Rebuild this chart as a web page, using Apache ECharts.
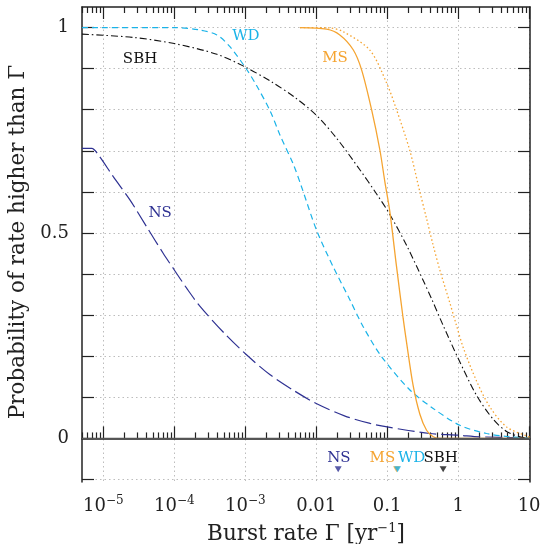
<!DOCTYPE html>
<html><head><meta charset="utf-8">
<script src="https://cdn.jsdelivr.net/npm/echarts@6/dist/echarts.min.js"></script>
<style>html,body{margin:0;padding:0;background:#fff}#c{width:541px;height:544px}</style>
</head><body><div id="c"></div>
<script>
// ---- data ----
const nsX = [5e-6, 6.87e-6, 8.51e-6, 1.38e-5, 2.38e-5, 4.08e-5, 7.0e-5, 1e-4, 1.5e-4, 2.29e-4, 5.0e-4, 1.05e-3, 2.24e-3, 5.0e-3, 0.01, 0.025, 0.0575, 0.1, 0.398, 1, 2, 10];
const nsY = [0.706, 0.706, 0.69, 0.637, 0.58, 0.515, 0.45, 0.41, 0.365, 0.322, 0.257, 0.203, 0.155, 0.115, 0.085, 0.055, 0.0365, 0.028, 0.012, 0.008, 0.004, 0.001];

const wdX = [5e-6, 1e-4, 2.29e-4, 3.98e-4, 6.03e-4, 1.02e-3, 1.43e-3, 2.24e-3, 3.09e-3, 4.79e-3, 6.22e-3, 0.0101, 0.0173, 0.0299, 0.0459, 0.0834, 0.209, 0.445, 1.057, 2.51, 5.35, 10];
const wdY = [1.0, 1.0, 0.994, 0.982, 0.954, 0.901, 0.86, 0.797, 0.738, 0.666, 0.612, 0.507, 0.418, 0.337, 0.272, 0.199, 0.118, 0.073, 0.032, 0.012, 0.004, 0.001];

const sbhX = [5e-6, 2.63e-5, 1e-4, 3.98e-4, 1e-3, 2.34e-3, 5.01e-3, 0.01, 0.0195, 0.0412, 0.071, 0.109, 0.1875, 0.321, 0.422, 0.615, 1, 1.815, 3.11, 4.81, 7.41, 10];
const sbhY = [0.984, 0.976, 0.961, 0.935, 0.904, 0.868, 0.83, 0.787, 0.73, 0.654, 0.595, 0.545, 0.47, 0.385, 0.34, 0.275, 0.195, 0.105, 0.047, 0.017, 0.004, 0.0];

const msX = [5.89e-3, 0.014, 0.0215, 0.0332, 0.0436, 0.0603, 0.0789, 0.0929, 0.109, 0.1355, 0.168, 0.1875, 0.232, 0.289, 0.359, 0.445, 0.552, 10];
const msY = [1.0, 0.996, 0.982, 0.946, 0.897, 0.80, 0.702, 0.624, 0.552, 0.418, 0.292, 0.234, 0.129, 0.059, 0.020, 0.004, 0.0, 0.0];

const msDotX = [5.89e-3, 0.01556, 0.024, 0.057, 0.0982, 0.1355, 0.209, 0.289, 0.359, 0.445, 0.552, 0.764, 0.948, 1.175, 1.816, 2.79, 4.81, 9.18, 10.2];
const msDotY = [1.0, 0.999, 0.99, 0.945, 0.865, 0.80, 0.70, 0.60, 0.535, 0.47, 0.41, 0.33, 0.275, 0.222, 0.14, 0.077, 0.028, 0.006, 0.003];

// markers below the zero line
const markNames = ['NS', 'MS', 'WD', 'SBH'];
const markX = [0.0204, 0.1355, 0.140, 0.615];
const markY = [-0.075, -0.075, -0.075, -0.075];
const markLabelX = [0.0209, 0.0855, 0.221, 0.568];
const markLabelY = [-0.047, -0.047, -0.047, -0.047];

// curve labels
const curveNames = ['WD', 'SBH', 'MS', 'NS'];
const curveLabelX = [1.02e-3, 3.29e-5, 0.0184, 6.3e-5];
const curveLabelY = [0.978, 0.922, 0.925, 0.549];

// ticks
const xMajorTicks = [1e-5, 1e-4, 1e-3, 0.01, 0.1, 1, 10];
const xTickLabels = ['10{s|−5}', '10{s|−4}', '10{s|−3}', '0.01', '0.1', '1', '10'];
const xMinorMantissas = [2, 3, 4, 5, 6, 7, 8, 9];
const yTicks = [-0.1, 0, 0.1, 0.2, 0.3, 0.4, 0.5, 0.6, 0.7, 0.8, 0.9, 1.0];
const yTickLabels = [0, 0.5, 1];

const COL = {NS: '#2e3192', WD: '#1ab3e8', MS: '#f5a431', SBH: '#111111'};
const FONT = 'DejaVu Serif';

const xMinorTicks = [];
[1e-6, 1e-5, 1e-4, 1e-3, 0.01, 0.1, 1].forEach(d => xMinorMantissas.forEach(m => {
  const v = +(m * d).toPrecision(3);
  if (v >= 5e-6 && v <= 10.3) xMinorTicks.push(v);
}));

const zip = (a, b) => a.map((v, i) => [v, b[i]]);
const XMIN = 5e-6, XMAX = 10.3, YMIN = -0.106, YMAX = 1.05;
const axisCol = '#222';
const SUP = {fontSize: 12, lineHeight: 12, verticalAlign: 'top', fontFamily: FONT, color: axisCol};

function xAx(pos, major, extra) {
  return Object.assign({
    type: 'log', logBase: 10, min: XMIN, max: XMAX, position: pos,
    axisLine: {show: major, lineStyle: {color: axisCol, width: 1.5}},
    axisTick: {show: true, inside: true, length: major ? 12 : 6,
      customValues: major ? xMajorTicks : xMinorTicks,
      lineStyle: {color: axisCol, width: 1.2}},
    axisLabel: {show: false},
    splitLine: {show: false}
  }, extra || {});
}

function textLabel(n) {
  return {show: true, position: 'inside', formatter: n, color: COL[n], opacity: 1,
    textBorderWidth: 0, fontFamily: FONT, fontSize: 15};
}

const chart = echarts.init(document.getElementById('c'), null, {renderer: 'canvas'});
chart.setOption({
  animation: false,
  backgroundColor: '#fff',
  grid: {left: 82, top: 7, width: 448, height: 475, containLabel: false, outerBoundsMode: 'none'},
  xAxis: [
    xAx('bottom', true, {
      axisLabel: {show: true, customValues: xMajorTicks, margin: 13, color: axisCol,
        fontFamily: FONT, fontSize: 18, lineHeight: 22,
        formatter: v => { let best = 0; xMajorTicks.forEach((t, i) => { if (Math.abs(Math.log10(t) - Math.log10(v)) < Math.abs(Math.log10(xMajorTicks[best]) - Math.log10(v))) best = i; }); return xTickLabels[best]; },
        rich: {s: SUP}},
      splitLine: {show: true, lineStyle: {color: '#bdbdbd', width: 1, type: [1.5, 3]}},
      name: 'Burst rate Γ [yr{s|−1}]', nameLocation: 'middle', nameGap: 38,
      nameTextStyle: {fontFamily: FONT, fontSize: 21.5, color: axisCol, lineHeight: 25,
        rich: {s: {fontSize: 13, lineHeight: 13, verticalAlign: 'top', fontFamily: FONT, color: axisCol}}}
    }),
    xAx('bottom', false),
    xAx('top', true),
    xAx('top', false)
  ],
  yAxis: [
    {type: 'value', min: YMIN, max: YMAX, position: 'left',
      axisLine: {show: true, lineStyle: {color: axisCol, width: 1.5}},
      axisTick: {show: true, inside: true, length: 12, customValues: yTicks, lineStyle: {color: axisCol, width: 1.2}},
      axisLabel: {show: true, customValues: yTickLabels, margin: 13, color: axisCol, fontFamily: FONT, fontSize: 18},
      splitLine: {show: true, lineStyle: {color: '#bdbdbd', width: 1, type: [1.5, 3]}},
      name: 'Probability of rate higher than Γ', nameLocation: 'middle', nameGap: 50, nameRotate: 90,
      nameTextStyle: {fontFamily: FONT, fontSize: 21.5, color: axisCol, padding: [0, 0, 0, 5]}},
    {type: 'value', min: YMIN, max: YMAX, position: 'right',
      axisLine: {show: true, lineStyle: {color: axisCol, width: 1.5}},
      axisTick: {show: true, inside: true, length: 12, customValues: yTicks, lineStyle: {color: axisCol, width: 1.2}},
      axisLabel: {show: false}, splitLine: {show: false}}
  ],
  series: [
    {type: 'line', name: 'NS', data: zip(nsX, nsY), showSymbol: false, symbol: 'none', smooth: 0.3,
      lineStyle: {color: COL.NS, width: 1.2, type: [17, 5]},
      markLine: {silent: true, symbol: 'none', label: {show: false},
        lineStyle: {color: '#555', width: 1.3, type: 'solid'}, data: [{yAxis: 0}]}},
    {type: 'line', name: 'WD', data: zip(wdX, wdY), showSymbol: false, symbol: 'none', smooth: 0.3,
      lineStyle: {color: COL.WD, width: 1.2, type: [6, 4]}},
    {type: 'line', name: 'SBH', data: zip(sbhX, sbhY), showSymbol: false, symbol: 'none', smooth: 0.3,
      lineStyle: {color: COL.SBH, width: 1.1, type: [7, 3, 1.5, 3]}},
    {type: 'line', name: 'MS', data: zip(msX, msY), showSymbol: false, symbol: 'none', smooth: 0.3,
      lineStyle: {color: COL.MS, width: 1.3, type: 'solid'}},
    {type: 'line', name: 'MS dotted', data: zip(msDotX, msDotY), showSymbol: false, symbol: 'none', smooth: 0.3,
      lineStyle: {color: COL.MS, width: 1.3, type: [1.5, 2.5]}},
    {type: 'scatter', name: 'markers', symbol: 'triangle', symbolRotate: 180, symbolSize: [7, 6], silent: true,
      data: markNames.map((n, i) => ({value: [markX[i], markY[i]], itemStyle: {color: COL[n]}}))},
    {type: 'scatter', name: 'marker labels', symbolSize: 1, silent: true, itemStyle: {color: 'rgba(0,0,0,0)'},
      data: markNames.map((n, i) => ({value: [markLabelX[i], markLabelY[i]], name: n, label: textLabel(n)}))},
    {type: 'scatter', name: 'curve labels', symbolSize: 1, silent: true, itemStyle: {color: 'rgba(0,0,0,0)'},
      data: curveNames.map((n, i) => ({value: [curveLabelX[i], curveLabelY[i]], name: n, label: textLabel(n)}))}
  ]
});
</script>
</body></html>
